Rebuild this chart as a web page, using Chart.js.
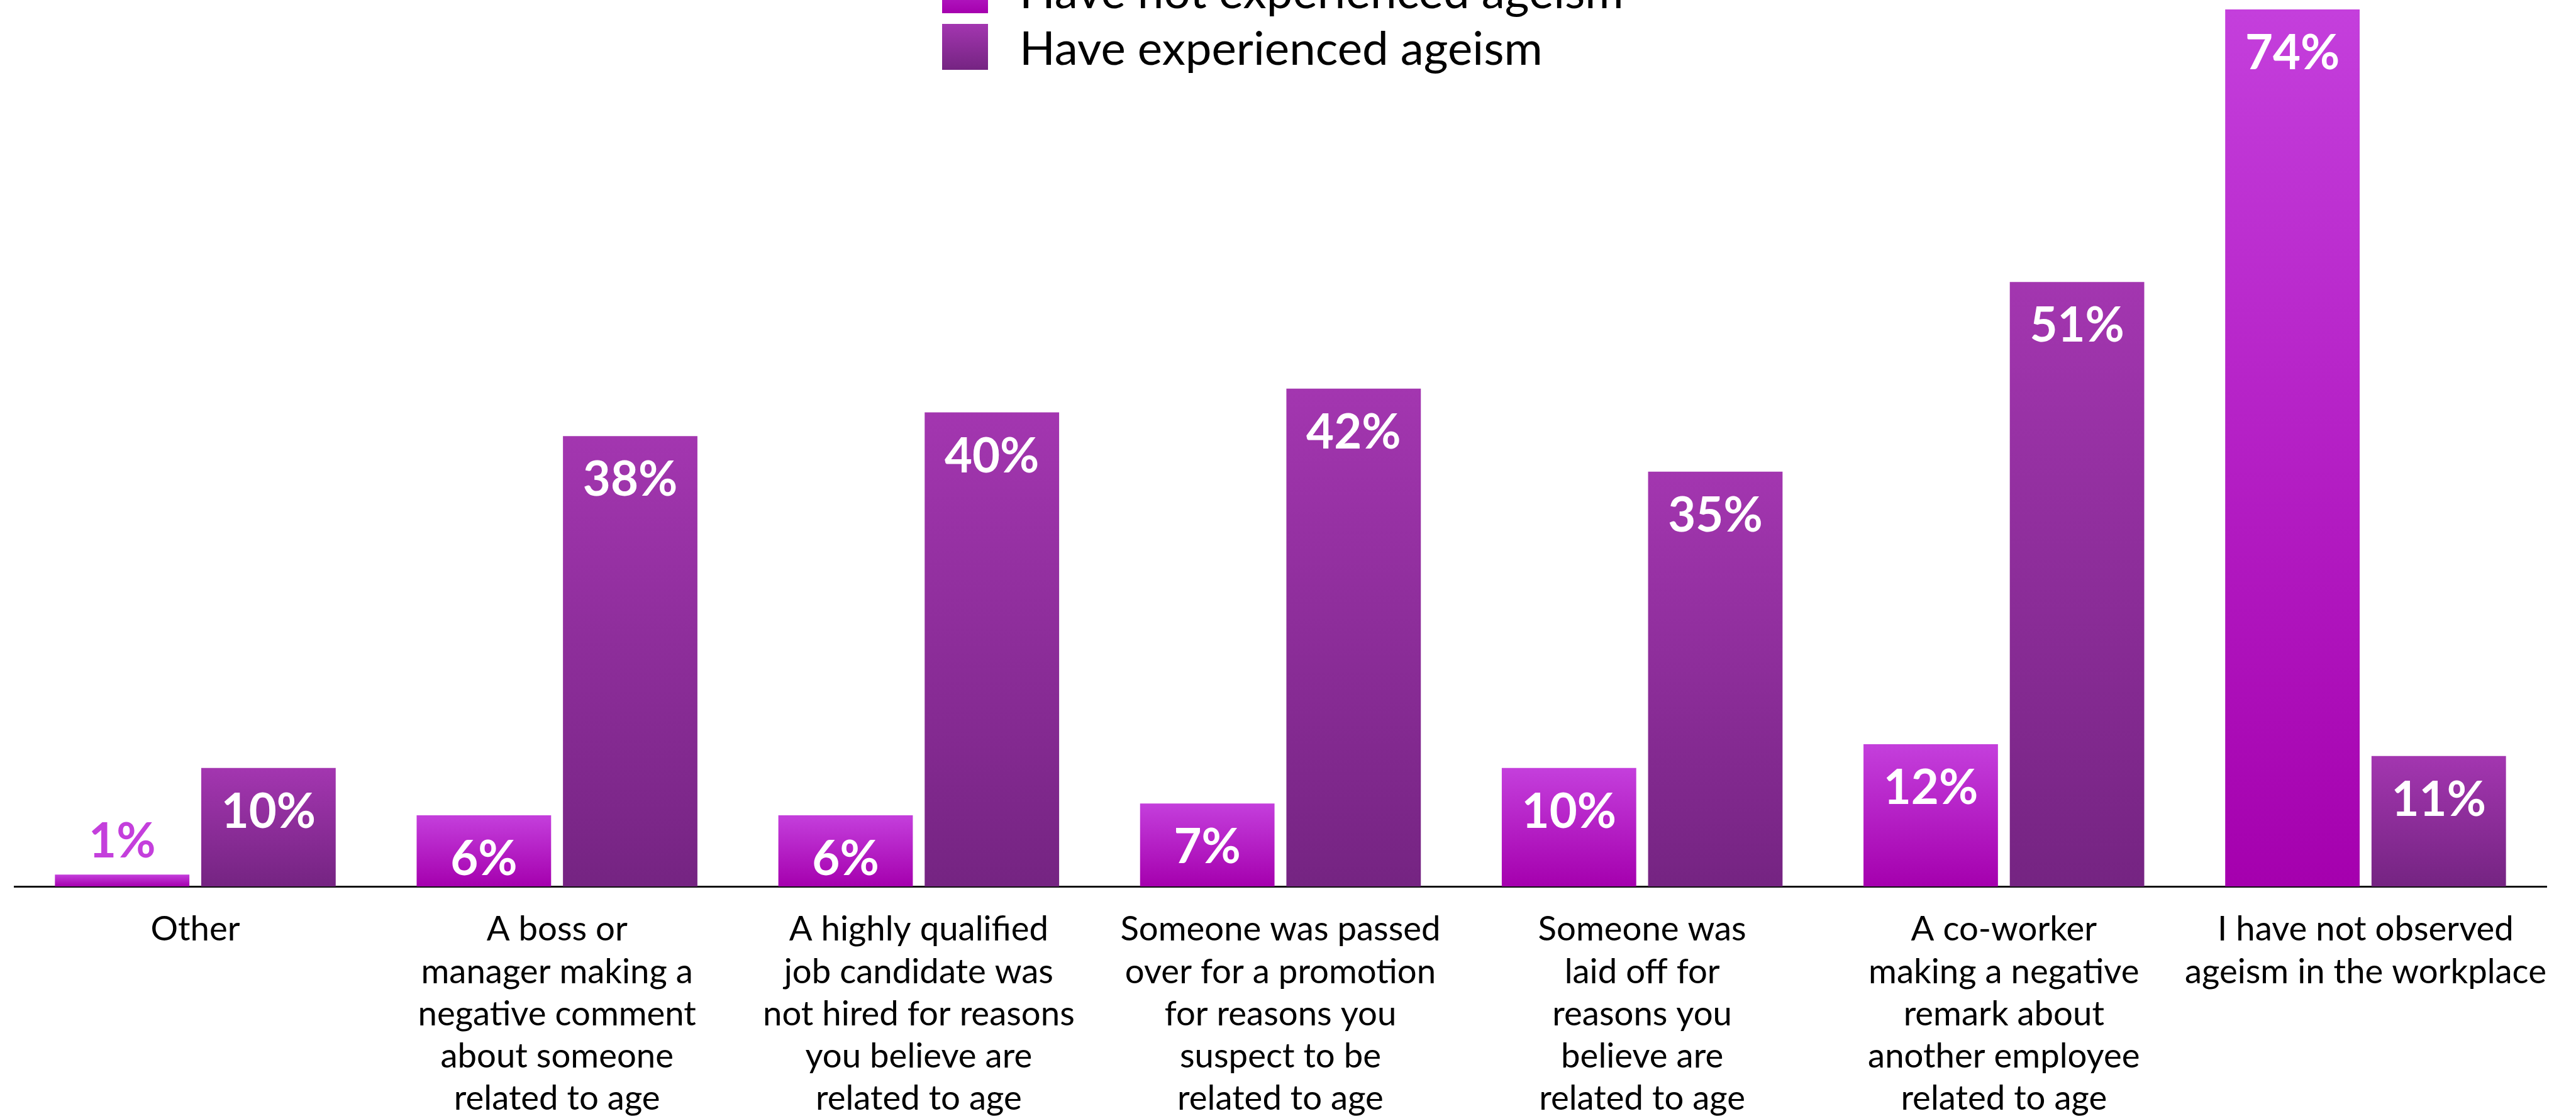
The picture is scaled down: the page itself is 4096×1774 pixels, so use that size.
<!DOCTYPE html>
<html>
<head>
<meta charset="utf-8">
<script src="https://cdn.jsdelivr.net/npm/chart.js@4.4.1/dist/chart.umd.min.js"></script>
<style>
  html, body { margin: 0; padding: 0; background: #fff; overflow: hidden; }
  #wrap { position: relative; width: 4096px; height: 1774px; }
</style>
</head>
<body>
<div id="wrap"><canvas id="ageChart"></canvas></div>
<script>
const categories = [
    'Other',
    ['A boss or', 'manager making a', 'negative comment', 'about someone', 'related to age'],
    ['A highly qualified', 'job candidate was', 'not hired for reasons', 'you believe are', 'related to age'],
    ['Someone was passed', 'over for a promotion', 'for reasons you', 'suspect to be', 'related to age'],
    ['Someone was', 'laid off for', 'reasons you', 'believe are', 'related to age'],
    ['A co-worker', 'making a negative', 'remark about', 'another employee', 'related to age'],
    ['I have not observed', 'ageism in the workplace']
];
const notExperienced = [1, 6, 6, 7, 10, 12, 74];
const experienced = [10, 38, 40, 42, 35, 51, 11];
const seriesNames = ['Have not experienced ageism', 'Have experienced ageism'];

// top / bottom colour of each bar's fade
const fades = [
    ['#c43fdc', '#a500ae'],
    ['#a336b0', '#752482']
];

function barFill(context) {
    const chart = context.chart;
    const pair = fades[context.datasetIndex];
    if (!chart.chartArea || typeof context.raw !== 'number') return pair[1];
    const y = chart.scales.y;
    const top = y.getPixelForValue(context.raw);
    const bottom = y.getPixelForValue(0);
    const g = chart.ctx.createLinearGradient(0, top, 0, bottom);
    g.addColorStop(0, pair[0]);
    g.addColorStop(1, pair[1]);
    return g;
}

// percent labels: white inside the bar, coloured above it when the bar is too short
const valueLabels = {
    id: 'valueLabels',
    afterDatasetsDraw(chart) {
        const c = chart.ctx;
        c.save();
        c.font = 'bold 76px Lato';
        c.textAlign = 'center';
        c.textBaseline = 'alphabetic';
        chart.data.datasets.forEach((ds, i) => {
            chart.getDatasetMeta(i).data.forEach((bar, j) => {
                const text = ds.data[j] + '%';
                if (bar.base - bar.y > 100) {
                    c.fillStyle = '#ffffff';
                    c.fillText(text, bar.x, bar.y + 95);
                } else {
                    c.fillStyle = fades[i][0];
                    c.fillText(text, bar.x, bar.y - 27);
                }
            });
        });
        c.restore();
    }
};

// legend stacked in two rows near the top
const stackedLegend = {
    id: 'stackedLegend',
    afterDraw(chart) {
        const c = chart.ctx;
        const boxX = 1498, box = 73, textX = 1621;
        const rows = [-52, 38];
        c.save();
        c.font = '74.5px Lato';
        c.textAlign = 'left';
        c.textBaseline = 'alphabetic';
        seriesNames.forEach((name, i) => {
            const y = rows[i];
            const g = c.createLinearGradient(0, y, 0, y + box);
            g.addColorStop(0, fades[i][0]);
            g.addColorStop(1, fades[i][1]);
            c.fillStyle = g;
            c.fillRect(boxX, y, box, box);
            c.fillStyle = '#000000';
            c.fillText(name, textX, y + 65);
        });
        c.restore();
    }
};

new Chart(document.getElementById('ageChart'), {
    type: 'bar',
    data: {
        labels: categories,
        datasets: [
            {
                label: seriesNames[0],
                data: notExperienced,
                backgroundColor: barFill,
                borderWidth: 0
            },
            {
                label: seriesNames[1],
                data: experienced,
                backgroundColor: barFill,
                borderWidth: 0
            }
        ]
    },
    options: {
        responsive: true,
        maintainAspectRatio: false,
        animation: false,
        devicePixelRatio: 1,
        categoryPercentage: 0.809,
        barPercentage: 0.919,
        layout: {
            padding: { left: 23, right: 47, top: 0, bottom: 0 }
        },
        plugins: {
            legend: { display: false },
            tooltip: { enabled: false }
        },
        scales: {
            x: {
                grid: { display: false, drawTicks: false },
                border: { display: true, color: '#111111', width: 3 },
                ticks: {
                    color: '#000000',
                    padding: 35,
                    maxRotation: 0,
                    autoSkip: false,
                    font: { family: 'Lato', size: 54.5, lineHeight: 1.235 }
                },
                afterFit(scale) {
                    scale.height = 365;
                }
            },
            y: {
                display: false,
                min: 0,
                max: 74.8
            }
        }
    },
    plugins: [valueLabels, stackedLegend]
});
</script>
</body>
</html>
